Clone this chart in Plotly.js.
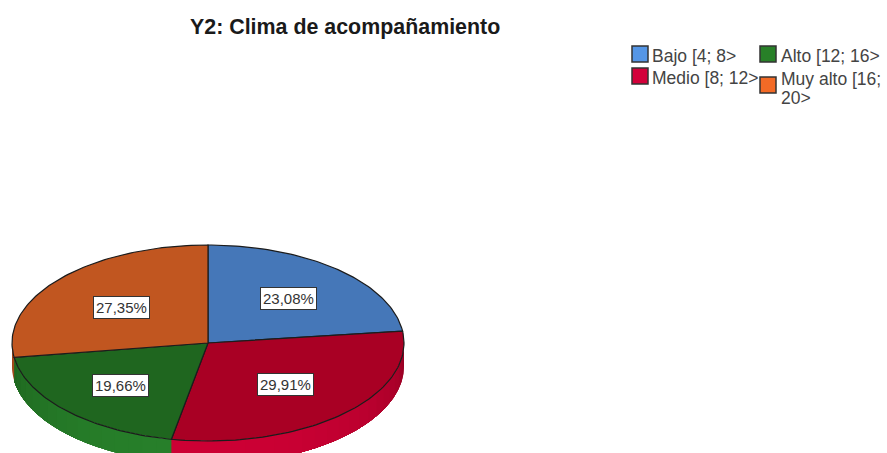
<!DOCTYPE html>
<html><head><meta charset="utf-8">
<script src="https://cdn.plot.ly/plotly-3.0.1.min.js"></script>
<style>html,body{margin:0;padding:0;background:#fff;overflow:hidden}#c{width:887px;height:453px}</style>
</head><body><div id="c"></div>
<script>
const categories = ["Bajo [4; 8>", "Medio [8; 12>", "Alto [12; 16>", "Muy alto [16;<br>20>"];
const values = [23.08, 29.91, 19.66, 27.35];
const topColors = ["#4577b8", "#a90024", "#1f661f", "#c15620"];
const sideDark = ["#2f5f9c", "#8a001f", "#1a5a1a", "#8f4018"];
const sideLight = ["#4f8ad6", "#cc0034", "#27802a", "#e0652a"];
const legendColors = ["#5596e6", "#d3003a", "#288028", "#f36a26"];
const title = "Y2: Clima de acompañamiento";

const W = 887, H = 453, cx = 208, cy = 343, rx = 196, ry = 98, depth = 23;
const X0 = -cx / rx, X1 = (W - cx) / rx, Y0 = (cy - H) / ry, Y1 = cy / ry;
const d = depth / ry;
const hex = c => [1,3,5].map(i => parseInt(c.substr(i,2),16));
const mix = (a,b,t) => { const A=hex(a),B=hex(b); return "rgb("+A.map((v,i)=>Math.round(v+(B[i]-v)*t)).join(",")+")"; };
const traces = [];
const total = values.reduce((a,b)=>a+b,0);
let start = 0;
const spans = values.map(v => { const s=[start, start + v/total*2*Math.PI]; start = s[1]; return s; });
// side wall strips (front half only), each painted to the slice end so later strips cover earlier ones without seams
spans.forEach((s,i) => {
  const a0 = Math.max(s[0], Math.PI/2), a1 = Math.min(s[1], 1.5*Math.PI);
  if (a1 <= a0) return;
  const n = Math.max(1, Math.ceil((a1-a0)/(Math.PI/40)));
  for (let k=0;k<n;k++){
    const p = a0+(a1-a0)*k/n;
    const steps = Math.max(2, (n-k)*3);
    const xs=[],ys=[];
    for (let j=0;j<=steps;j++){const a=p+(a1-p)*j/steps; xs.push(Math.sin(a)); ys.push(Math.cos(a));}
    for (let j=steps;j>=0;j--){const a=p+(a1-p)*j/steps; xs.push(Math.sin(a)); ys.push(Math.cos(a)-d);}
    const m=p+(a1-a0)/n/2, t=Math.pow(Math.max(0,-Math.cos(m)),0.6);
    const col=mix(sideDark[i],sideLight[i],t);
    traces.push({type:"scatter",mode:"none",x:xs,y:ys,fill:"toself",fillcolor:col,hoverinfo:"skip",showlegend:false});
  }
});
// top faces
spans.forEach((s,i) => {
  const xs=[0],ys=[0]; const n=80;
  for (let k=0;k<=n;k++){const a=s[0]+(s[1]-s[0])*k/n; xs.push(Math.sin(a)); ys.push(Math.cos(a));}
  xs.push(0); ys.push(0);
  traces.push({type:"scatter",mode:"lines",x:xs,y:ys,fill:"toself",fillcolor:topColors[i],line:{color:"#1c1c1c",width:1.2},name:categories[i].replace("<br>"," "),text:values[i].toFixed(2).replace(".",",")+"%",hoverinfo:"name+text",showlegend:false});
});
const px = x => x/W, py = y => 1-y/H;
const labelPx = [[288,298.5],[285,384.5],[120,385.5],[121,307]];
const annotations = values.map((v,i)=>({xref:"paper",yref:"paper",x:px(labelPx[i][0]),y:py(labelPx[i][1]),xanchor:"center",yanchor:"middle",showarrow:false,
  text:v.toFixed(2).replace(".",",")+"%",font:{family:"Liberation Sans",size:15,color:"#333"},bgcolor:"#fff",bordercolor:"#333",borderwidth:1,borderpad:2}));
annotations.push({xref:"paper",yref:"paper",x:px(345),y:py(27),xanchor:"center",yanchor:"middle",showarrow:false,text:"<b>"+title+"</b>",font:{family:"Liberation Sans",size:21.4,color:"#1a1a1a"}});
const keyPx = [[632,46],[632,68],[760,46],[760,77]];
const textPx = [[650,56],[650,78],[779,56],[779,79]];
const lineGap = 19;
const shapes = [];
categories.forEach((c,i)=>{
  shapes.push({type:"rect",xref:"paper",yref:"paper",x0:px(keyPx[i][0]),x1:px(keyPx[i][0]+16),y0:py(keyPx[i][1]),y1:py(keyPx[i][1]+16),fillcolor:legendColors[i],line:{color:"#333",width:1.5}});
  c.split("<br>").forEach((line,k)=>{
    annotations.push({xref:"paper",yref:"paper",x:px(textPx[i][0]),y:py(textPx[i][1]+k*lineGap),xanchor:"left",yanchor:"middle",align:"left",showarrow:false,text:line,font:{family:"Liberation Sans",size:17.5,color:"#444"}});
  });
});
const ax = r => ({range:r,visible:false,fixedrange:true});
Plotly.newPlot("c",traces,{width:W,height:H,margin:{l:0,r:0,t:0,b:0},paper_bgcolor:"#fff",plot_bgcolor:"#fff",
  xaxis:ax([X0,X1]),yaxis:ax([Y0,Y1]),annotations,shapes,showlegend:false,hovermode:"closest"},{displayModeBar:false});
</script></body></html>
